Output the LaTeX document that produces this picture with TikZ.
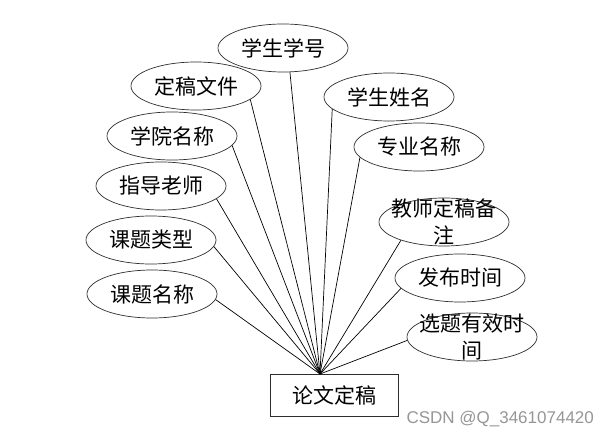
\documentclass[tikz,border=0pt]{standalone}
\usepackage{fontspec}
\newfontfamily\cjk{Noto Sans CJK SC}
\setsansfont{Liberation Sans}
\usetikzlibrary{shapes.geometric, positioning}
\definecolor{linegray}{RGB}{45, 45, 45}
\definecolor{markgray}{RGB}{150, 150, 150}

\begin{document}
\begin{tikzpicture}[x=1pt, y=-1pt, font=\cjk\fontsize{21}{27}\selectfont,
    attr/.style={draw=linegray, ellipse, line width=0.7pt, minimum width=130pt, minimum height=48pt, inner sep=0pt},
    entity/.style={draw=linegray, line width=0.9pt, minimum width=128pt, minimum height=42pt, inner sep=0pt},
    link/.style={draw=black, line width=0.7pt}]
    \useasboundingbox (0,0) rectangle (615,438);

    \node[entity] (lwdg) at (334,395) {论文定稿};
    \coordinate (hub) at (320,374);

    \node[attr] (xsxh) at (283,48) {学生学号};
    \node[attr] (dgwj) at (196,86) {定稿文件};
    \node[attr] (xymc) at (172,136) {学院名称};
    \node[attr] (zdls) at (161,186) {指导老师};
    \node[attr] (ktlx) at (151,240) {课题类型};
    \node[attr] (ktmc) at (152,294) {课题名称};
    \node[attr] (xsxm) at (389,97) {学生姓名};
    \node[attr] (zymc) at (419,147) {专业名称};
    \node[attr, label={[align=center]center:教师定稿备\\注}] (jsbz) at (444,222) {};
    \node[attr] (fbsj) at (460,278) {发布时间};
    \node[attr, label={[align=center]center:选题有效时\\间}] (yxsj) at (472,337) {};

    \draw[link] (xsxh.-74) -- (hub);
    \draw[link] (dgwj.-14) -- (hub);
    \draw[link] (xymc.-9) -- (hub);
    \draw[link] (zdls.-13) -- (hub);
    \draw[link] (ktlx.-6) -- (hub);
    \draw[link] (ktmc.-5) -- (hub);
    \draw[link] (xsxm.192) -- (hub);
    \draw[link] (zymc.190) -- (hub);
    \draw[link] (jsbz.203) -- (hub);
    \draw[link] (fbsj.190) -- (hub);
    \draw[link] (yxsj.183) -- (hub);

    \node[text=markgray, font=\sffamily\fontsize{17}{20}\selectfont, anchor=west] (mark) at (403,419) {CSDN @Q\_3461074420};
\end{tikzpicture}
\end{document}
